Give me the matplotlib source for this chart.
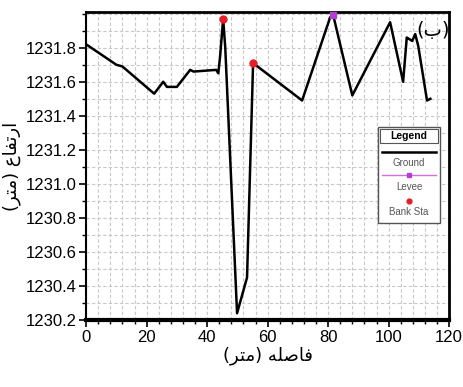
import matplotlib
matplotlib.use("Agg")
import matplotlib.pyplot as plt
from matplotlib.ticker import MultipleLocator
from matplotlib.patches import Rectangle
from matplotlib.lines import Line2D

# Ground profile (station m, elevation m)
station = [0, 10, 12, 22.5, 25.5, 26.7, 30, 34.4, 35.5, 43, 43.7, 44.3, 45.3,
           46.0, 49.9, 53.2, 55.2, 71.4, 80.7, 81.7, 88, 100.5, 104.8, 106,
           107.8, 108.8, 109.8, 112.7, 113.8]
elevation = [1231.82, 1231.70, 1231.69, 1231.53, 1231.60, 1231.57, 1231.57,
             1231.67, 1231.66, 1231.67, 1231.65, 1231.75, 1231.97,
             1231.80, 1230.24, 1230.45, 1231.71, 1231.49, 1231.98, 1231.99,
             1231.52, 1231.95, 1231.60, 1231.86, 1231.84, 1231.88, 1231.81,
             1231.49, 1231.50]
levee_x = [81.7]
levee_y = [1231.99]
bank_x = [45.3, 55.2]
bank_y = [1231.97, 1231.71]

x_ticks = [0, 20, 40, 60, 80, 100, 120]
y_ticks = [1230.2, 1230.4, 1230.6, 1230.8, 1231.0, 1231.2, 1231.4, 1231.6, 1231.8]

# Arabic labels written in visual order with presentation forms
xlabel = "(\uFEAE\uFE98\uFEE3) \uFEEA\uFEE0\uFEBB\uFE8E\uFED3"
ylabel = "(\uFEAE\uFE98\uFEE3) \uFEC9\uFE8E\uFED4\uFE97\uFEAD\uFE8D"
panel = "(\uFE8F)"

plt.rcParams['font.family'] = ['Liberation Sans', 'DejaVu Sans']

fig = plt.figure(figsize=(4.63, 3.87), dpi=100)
ax = fig.add_axes([0.186, 0.173, 0.784, 0.796])

ax.plot(station, elevation, color='black', lw=1.8, zorder=3)
ax.plot(levee_x, levee_y, 's', color='#b040d0', ms=5, zorder=4, clip_on=False)
ax.plot(bank_x, bank_y, 'o', color='#e0202a', ms=5, zorder=4, clip_on=False)

ax.set_xlim(0, 120)
ax.set_ylim(1230.2, 1232.01)
ax.set_xticks(x_ticks)
ax.set_yticks(y_ticks)
ax.set_yticklabels([f"{v:.1f}" for v in y_ticks])
ax.xaxis.set_minor_locator(MultipleLocator(4))
ax.yaxis.set_minor_locator(MultipleLocator(0.1))
ax.tick_params(axis='both', which='major', direction='out', length=5, width=1.2,
               labelsize=12, pad=2)
ax.tick_params(axis='both', which='minor', direction='out', length=3, width=1)
ax.grid(which='both', color='#c8c8c8', lw=0.8, ls=(0, (3, 2)))
ax.set_axisbelow(True)

ax.spines['bottom'].set_linewidth(3)
ax.spines['top'].set_linewidth(2)
ax.spines['left'].set_linewidth(1.5)
ax.spines['right'].set_linewidth(2)

ax.set_xlabel(xlabel, fontsize=13, family='DejaVu Sans', labelpad=1)
ax.set_ylabel(ylabel, fontsize=13, family='DejaVu Sans', labelpad=3)

ax.text(0.955, 0.94, panel, transform=ax.transAxes, fontsize=14,
        family='DejaVu Sans', ha='center', va='center', zorder=5)

# Custom legend box
tr = ax.transAxes
lx0, lx1 = 0.804, 0.975
ly_top, ly_bot = 0.627, 0.315
cx = (lx0 + lx1) / 2
ax.add_patch(Rectangle((lx0, ly_bot), lx1 - lx0, ly_top - ly_bot, transform=tr,
                       facecolor='white', edgecolor='#555555', lw=1, zorder=5))
ax.add_patch(Rectangle((lx0 + 0.006, 0.575), lx1 - lx0 - 0.012, 0.045,
                       transform=tr, facecolor='white', edgecolor='#555555',
                       lw=0.8, zorder=6))
ax.text(cx, 0.598, "Legend", transform=tr, fontsize=7.5,
        fontweight='bold', ha='center', va='center', zorder=7)
ax.add_line(Line2D([lx0 + 0.01, lx1 - 0.01], [0.545, 0.545], transform=tr,
                   color='black', lw=1.8, zorder=7))
ax.text(cx, 0.51, "Ground", transform=tr, fontsize=7, color='#555555',
        ha='center', va='center', zorder=7)
ax.add_line(Line2D([lx0 + 0.01, lx1 - 0.01], [0.47, 0.47], transform=tr,
                   color='#d070e0', lw=1, zorder=7))
ax.add_line(Line2D([cx], [0.47], transform=tr, color='#b040d0', marker='s',
                   ms=3.5, lw=0, zorder=8))
ax.text(cx, 0.432, "Levee", transform=tr, fontsize=7, color='#555555',
        ha='center', va='center', zorder=7)
ax.add_line(Line2D([cx], [0.387], transform=tr, color='#e0202a', marker='o',
                   ms=3.5, lw=0, zorder=8))
ax.text(cx, 0.352, "Bank Sta", transform=tr, fontsize=7, color='#555555',
        ha='center', va='center', zorder=7)

fig.savefig("out.png", dpi=100)
